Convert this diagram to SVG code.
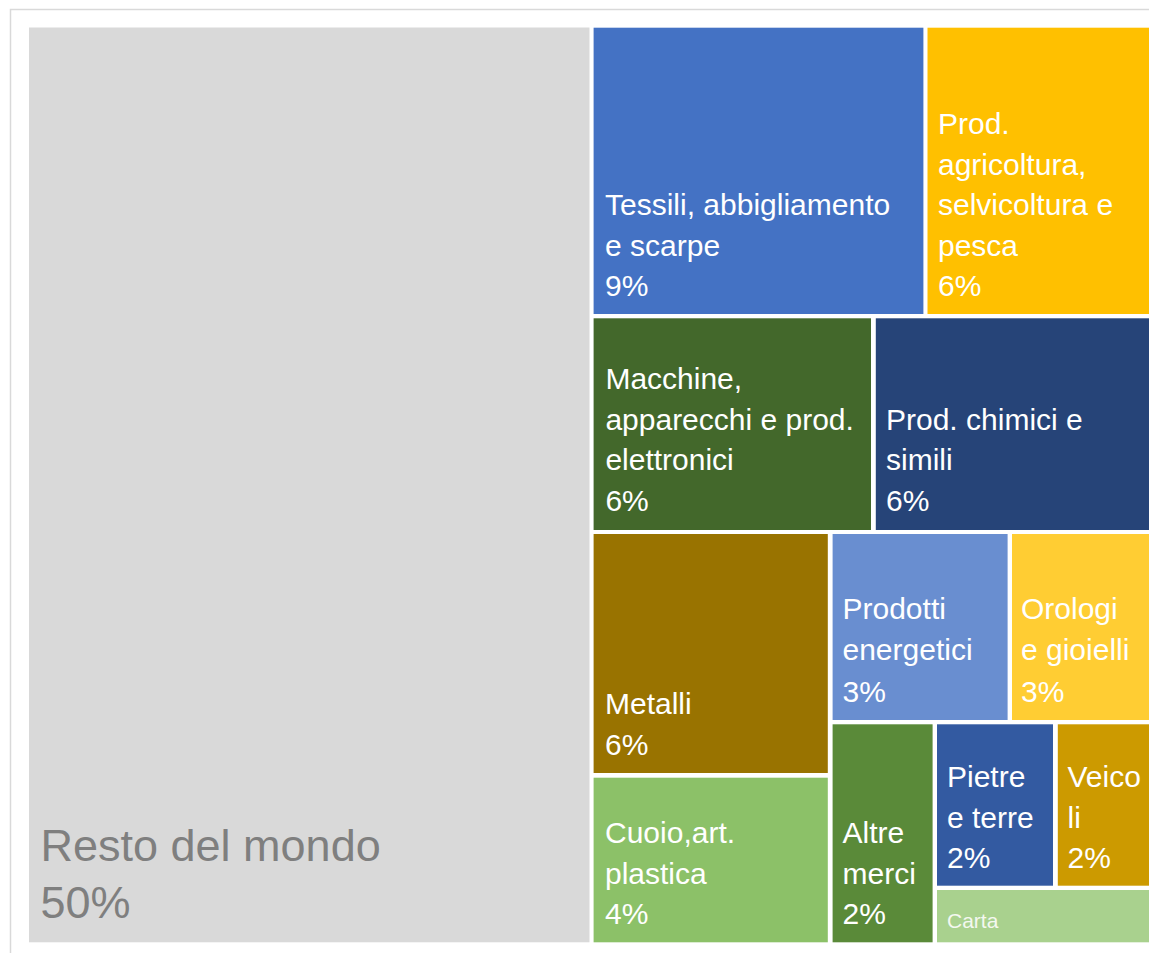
<svg xmlns="http://www.w3.org/2000/svg" width="1149" height="953" viewBox="0 0 1149 953">
<style>
  .lbl { font-family: "Liberation Sans", Arial, sans-serif; font-size: 30px; fill: #ffffff; }
  .big { font-family: "Liberation Sans", Arial, sans-serif; font-size: 45px; fill: #7f7f7f; }
  .sm { font-family: "Liberation Sans", Arial, sans-serif; font-size: 21px; fill: #f4f8f0; }
</style>
<rect x="0" y="0" width="1149" height="953" fill="#ffffff"/>
<rect x="10.5" y="9.5" width="1160" height="960" fill="none" stroke="#d9d9d9" stroke-width="1.5"/>

<g id="resto">
  <rect x="29" y="27.5" width="560.5" height="914.8" fill="#d9d9d9"/>
  <text class="big" x="40.5" y="861">Resto del mondo</text>
  <text class="big" x="40.5" y="918">50%</text>
</g>

<g id="tessili">
  <rect x="593.6" y="27.7" width="329.8" height="286.3" fill="#4472c4"/>
  <text class="lbl" x="605" y="215">Tessili, abbigliamento</text>
  <text class="lbl" x="605" y="255.5">e scarpe</text>
  <text class="lbl" x="605" y="296">9%</text>
</g>

<g id="agricoltura">
  <rect x="927.5" y="27.7" width="221.5" height="286.3" fill="#ffc000"/>
  <text class="lbl" x="938" y="134">Prod.</text>
  <text class="lbl" x="938" y="174.5">agricoltura,</text>
  <text class="lbl" x="938" y="215">selvicoltura e</text>
  <text class="lbl" x="938" y="255.5">pesca</text>
  <text class="lbl" x="938" y="296">6%</text>
</g>

<g id="macchine">
  <rect x="593.6" y="318.3" width="277.4" height="211.7" fill="#43682b"/>
  <text class="lbl" x="605.4" y="389">Macchine,</text>
  <text class="lbl" x="605.4" y="429.5">apparecchi e prod.</text>
  <text class="lbl" x="605.4" y="470">elettronici</text>
  <text class="lbl" x="605.4" y="510.5">6%</text>
</g>

<g id="chimici">
  <rect x="875.8" y="318.3" width="273.2" height="211.7" fill="#264478"/>
  <text class="lbl" x="886" y="429.5">Prod. chimici e</text>
  <text class="lbl" x="886" y="470">simili</text>
  <text class="lbl" x="886" y="510.5">6%</text>
</g>

<g id="metalli">
  <rect x="593.6" y="534" width="234.2" height="239" fill="#997300"/>
  <text class="lbl" x="605" y="714">Metalli</text>
  <text class="lbl" x="605" y="754.5">6%</text>
</g>

<g id="cuoio">
  <rect x="593.6" y="777.7" width="234.2" height="164.6" fill="#8cc168"/>
  <text class="lbl" x="605" y="843">Cuoio,art.</text>
  <text class="lbl" x="605" y="883.5">plastica</text>
  <text class="lbl" x="605" y="924">4%</text>
</g>

<g id="energetici">
  <rect x="832.6" y="534" width="175" height="186" fill="#698ed0"/>
  <text class="lbl" x="842.5" y="619">Prodotti</text>
  <text class="lbl" x="842.5" y="660">energetici</text>
  <text class="lbl" x="842.5" y="701.5">3%</text>
</g>

<g id="orologi">
  <rect x="1012" y="534" width="137" height="186" fill="#ffcd33"/>
  <text class="lbl" x="1021" y="619">Orologi</text>
  <text class="lbl" x="1021" y="660">e gioielli</text>
  <text class="lbl" x="1021" y="701.5">3%</text>
</g>

<g id="altre">
  <rect x="832.6" y="724.3" width="100" height="218" fill="#5a8a39"/>
  <text class="lbl" x="842.5" y="843">Altre</text>
  <text class="lbl" x="842.5" y="883.5">merci</text>
  <text class="lbl" x="842.5" y="924">2%</text>
</g>

<g id="pietre">
  <rect x="937" y="724.3" width="116" height="161.4" fill="#335aa1"/>
  <text class="lbl" x="947" y="787">Pietre</text>
  <text class="lbl" x="947" y="827.5">e terre</text>
  <text class="lbl" x="947" y="868">2%</text>
</g>

<g id="veicoli">
  <rect x="1057.8" y="724.3" width="91.2" height="161.4" fill="#cc9a00"/>
  <text class="lbl" x="1067.5" y="787">Veico</text>
  <text class="lbl" x="1067.5" y="827.5">li</text>
  <text class="lbl" x="1067.5" y="868">2%</text>
</g>

<g id="carta">
  <rect x="937" y="890" width="212" height="52.3" fill="#a9d18e"/>
  <text class="sm" x="947" y="928">Carta</text>
</g>
</svg>
